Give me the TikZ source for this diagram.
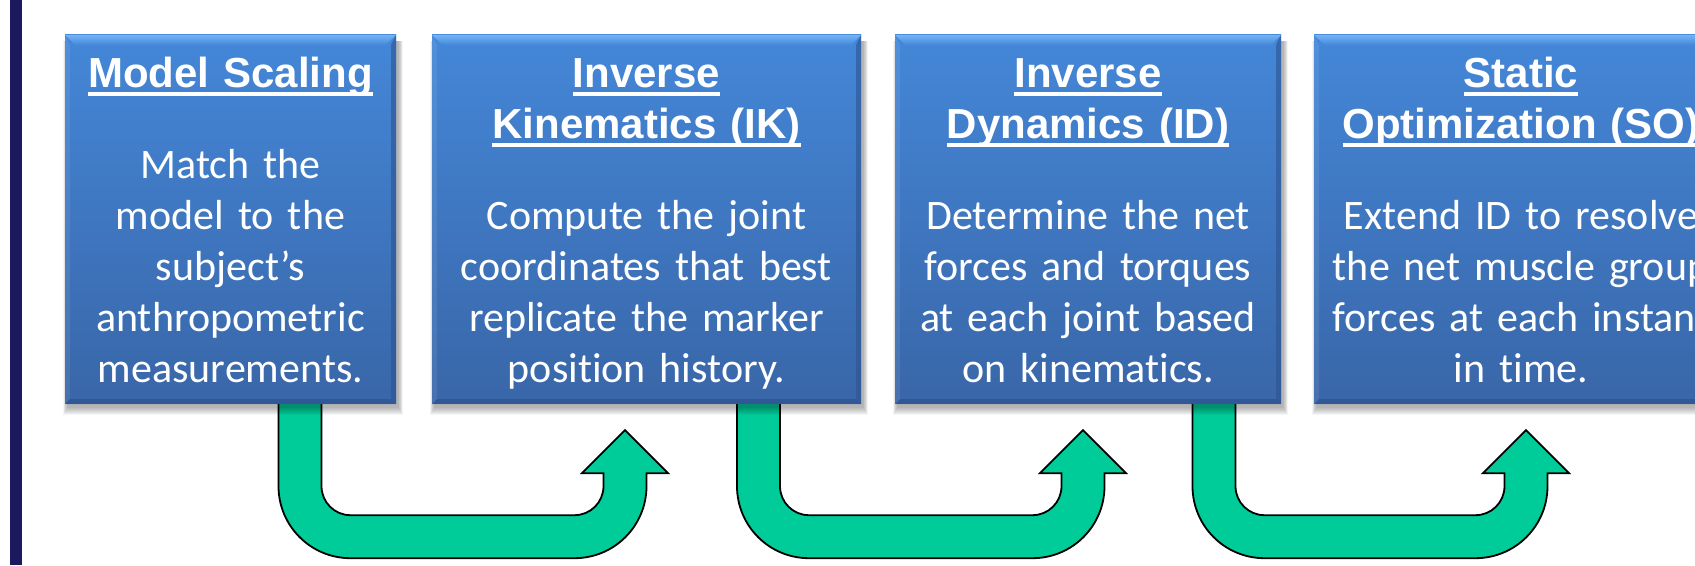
\documentclass[tikz,border=0pt]{standalone}
\usepackage{fontspec}
\setmainfont{Carlito}[Ligatures=NoCommon]
\newfontfamily\headfont{Liberation Sans}
\usetikzlibrary{calc,backgrounds}

\definecolor{boxtop}{HTML}{4487D8}
\definecolor{boxbot}{HTML}{3966A8}
\definecolor{bevlight}{HTML}{74B4F6}
\definecolor{bevdark}{HTML}{2D5390}
\definecolor{arrowgreen}{HTML}{00CC99}
\definecolor{sidebar}{HTML}{1B1A5E}

% heading with a flat underline set at a fixed depth
\newcommand\hul[1]{\leavevmode\setbox0=\hbox{#1}\rlap{\rule[-8.5pt]{\wd0}{3.5pt}}\box0}
\newcommand\hdr[1]{{\headfont\bfseries\hul{#1}}}

% light top edge and darker right/bottom edges of a step box
\newcommand\bevel[1]{%
  \shade[top color=bevlight, bottom color=boxtop]
    (#1.north west) -- (#1.north east) -- ($(#1.north east)+(-10pt,-10pt)$)
    -- ($(#1.north west)+(10pt,-10pt)$) -- cycle;
  \fill[bevdark, opacity=0.6]
    (#1.north east) -- (#1.south east) -- ($(#1.south east)+(-5pt,5pt)$)
    -- ($(#1.north east)+(-5pt,-10pt)$) -- cycle;
  \fill[bevdark, opacity=0.7]
    (#1.south west) -- (#1.south east) -- ($(#1.south east)+(-5pt,5pt)$)
    -- ($(#1.south west)+(5pt,5pt)$) -- cycle;
  \fill[white, opacity=0.08]
    (#1.north west) -- ($(#1.north west)+(5pt,-10pt)$)
    -- ($(#1.south west)+(5pt,5pt)$) -- (#1.south west) -- cycle;}

% soft shadow under a step box
\newcommand\boxshadow[1]{%
  \foreach \s in {1,...,8}
    \fill[black, opacity=0.04]
      ($(#1.south west)+(3pt-\s*0.6pt,-3pt-\s*1pt)$) rectangle
      ($(#1.north east)+(2pt+\s*0.6pt,-6pt)$);}

% U-turn block arrow: #1 = top of the left shaft, #2 = arrow tip
\newcommand\uturnarrow[2]{%
  \draw[flowarrow] let \p1=(#1), \p2=(#2) in
    (\x1-21.5pt,\y1) -- (\x1-21.5pt,\y2-56pt)
    arc[start angle=180,end angle=270,radius=72pt]
    -- (\x2-50.5pt,\y2-128pt)
    arc[start angle=270,end angle=360,radius=72pt]
    -- (\x2+21.5pt,\y2-43pt) -- (\x2+43pt,\y2-43pt) -- (\x2,\y2)
    -- (\x2-43pt,\y2-43pt) -- (\x2-21.5pt,\y2-43pt)
    -- (\x2-21.5pt,\y2-56pt)
    arc[start angle=0,end angle=-90,radius=29pt]
    -- (\x1+50.5pt,\y2-85pt)
    arc[start angle=270,end angle=180,radius=29pt]
    -- (\x1+21.5pt,\y1) -- cycle;}

\begin{document}
\begin{tikzpicture}[x=1pt,y=1pt,
  stepbox/.style={shade, top color=boxtop, bottom color=boxbot,
    inner sep=0pt, minimum height=369pt, draw=none},
  flowarrow/.style={fill=arrowgreen, draw=black, line width=1.8pt},
  boxtext/.style={text=white, align=center, text width=440pt, inner sep=0pt,
    anchor=base, font=\fontsize{42pt}{51pt}\selectfont}]

\useasboundingbox (0,0) rectangle (1695,565);

% the four steps
\node[stepbox, minimum width=331pt] (b1) at (230.5,345.5) {};
\node[stepbox, minimum width=429pt] (b2) at (646.5,345.5) {};
\node[stepbox, minimum width=386pt] (b3) at (1088,345.5) {};
\node[stepbox, minimum width=414pt] (b4) at (1521,345.5) {};

\bevel{b1}\bevel{b2}\bevel{b3}\bevel{b4}

\node[boxtext] (t1) at ($(b1.center)+(0,132)$)
  {\hdr{Model Scaling}\\[40pt]
   Match the\\ model to the\\ subject’s\\ anthropometric\\ measurements.};
\node[boxtext] (t2) at ($(b2.center)+(0,132)$)
  {\hdr{Inverse}\\ \hdr{Kinematics (IK)}\\[40pt]
   Compute the joint\\ coordinates that best\\ replicate the marker\\ position history.};
\node[boxtext] (t3) at ($(b3.center)+(0,132)$)
  {\hdr{Inverse}\\ \hdr{Dynamics (ID)}\\[40pt]
   Determine the net\\ forces and torques\\ at each joint based\\ on kinematics.};
\node[boxtext] (t4) at ($(b4.center)+(0,132)$)
  {\hdr{Static}\\ \hdr{Optimization (SO)}\\[40pt]
   Extend ID to resolve\\ the net muscle group\\ forces at each instant\\ in time.};

% arrow ends
\coordinate (a1s) at ([xshift=69.5pt,yshift=6pt]b1.south);
\coordinate (a1t) at ([xshift=-21.5pt,yshift=-26pt]b2.south);
\coordinate (a2s) at ([xshift=112pt,yshift=6pt]b2.south);
\coordinate (a2t) at ([xshift=-5pt,yshift=-26pt]b3.south);
\coordinate (a3s) at ([xshift=126pt,yshift=6pt]b3.south);
\coordinate (a3t) at ([xshift=5pt,yshift=-26pt]b4.south);

\begin{pgfonlayer}{background}
  \fill[white] (0,0) rectangle (1695,565);
  % dark bar on the left
  \fill[sidebar] (10,0) rectangle (22,565);
  \uturnarrow{a1s}{a1t}
  \uturnarrow{a2s}{a2t}
  \uturnarrow{a3s}{a3t}
  \boxshadow{b1}\boxshadow{b2}\boxshadow{b3}\boxshadow{b4}
\end{pgfonlayer}
\end{tikzpicture}
\end{document}
